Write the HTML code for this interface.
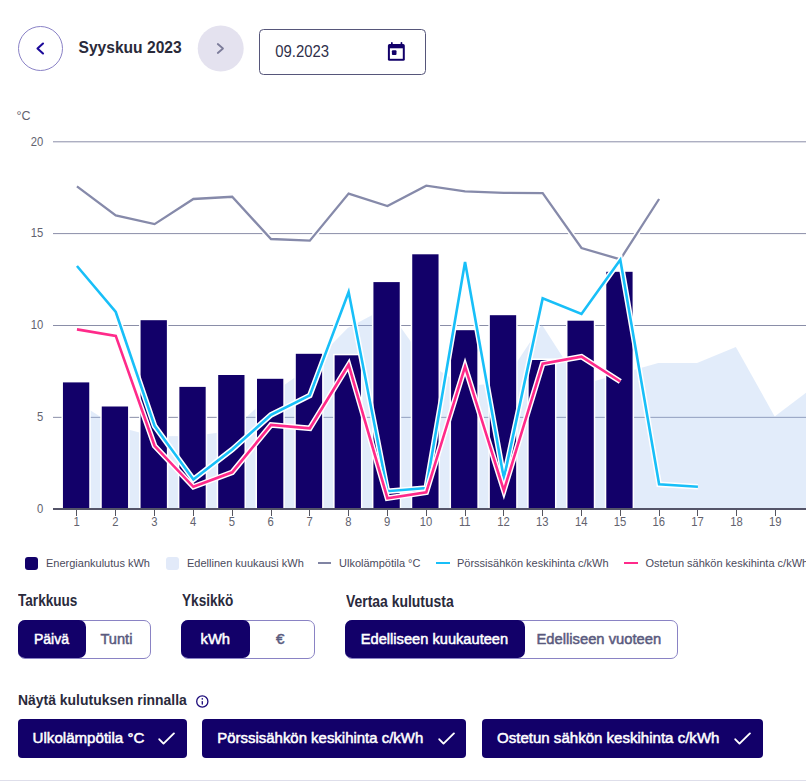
<!DOCTYPE html>
<html><head><meta charset="utf-8">
<style>
html,body{margin:0;padding:0;background:#fff;}
body{width:806px;height:781px;position:relative;overflow:hidden;font-family:"Liberation Sans",sans-serif;}
.abs{position:absolute;white-space:nowrap;}
svg.chart{position:absolute;left:0;top:0;}
.ax{font-family:"Liberation Sans",sans-serif;font-size:12.5px;fill:#62626e;}
.navbtn{position:absolute;width:44px;height:44px;border-radius:50%;box-sizing:border-box;}
.lbl{font-weight:bold;font-size:13.6px;color:#2a2a3c;line-height:16px;transform:scaleY(1.17);transform-origin:0 2.8px;}
.leg{font-size:11px;color:#4a4a5c;line-height:13px;}
.tg{position:absolute;box-sizing:border-box;border:1px solid #8a83c4;border-radius:7px;height:38.5px;top:620px;}
.tg .sel{position:absolute;top:-1px;bottom:0px;left:-1px;background:#120069;border-radius:7px;}
.tg span{position:absolute;top:0;line-height:36.5px;font-weight:bold;font-size:13.8px;transform:scaleY(1.12);transform-origin:0 23px;}
.chip{position:absolute;top:719px;height:38.5px;background:#120069;border-radius:4px;}
.chip span{position:absolute;left:15px;top:0;line-height:38.5px;color:#fff;font-weight:bold;font-size:14px;transform:scaleY(1.13);transform-origin:0 12.5px;}
.chip svg{position:absolute;top:12px;}
</style></head><body>
<!-- header -->
<div class="navbtn" style="left:18px;top:26px;width:45px;height:45px;border:1.3px solid #8a82c6;"></div>
<svg class="abs" style="left:0;top:0" width="806" height="90">
 <polyline points="43,43.5 37.5,48.5 43,53.5" fill="none" stroke="#1c0a9a" stroke-width="2.1" stroke-linecap="round" stroke-linejoin="round"/>
 <circle cx="220.7" cy="48.5" r="23" fill="#e4e2ef"/>
 <polyline points="217.8,44 223,48.5 217.8,53" fill="none" stroke="#7c7c9a" stroke-width="1.8" stroke-linecap="round" stroke-linejoin="round"/>
 <rect x="259.5" y="29.5" width="166" height="45" rx="4" ry="4" fill="none" stroke="#56567a" stroke-width="1"/>
 <g fill="#120069">
  <rect x="387.9" y="44.1" width="16.9" height="16.7" rx="1.6"/>
 </g>
 <rect x="389.9" y="48.3" width="12.9" height="10.5" fill="#fff"/>
 <rect x="391" y="42" width="1.7" height="3" rx="0.8" fill="#120069"/>
 <rect x="400.6" y="42" width="1.7" height="3" rx="0.8" fill="#120069"/>
 <rect x="391.9" y="50.3" width="4.6" height="4.6" rx="0.9" fill="#120069"/>
</svg>
<div class="abs" style="left:78.5px;top:39.2px;font-weight:bold;font-size:15.6px;line-height:18px;color:#2a2a3a;">Syyskuu 2023</div>
<div class="abs" style="left:275.3px;top:43px;font-size:14.9px;line-height:17px;color:#30304a;transform:scaleY(1.12);transform-origin:0 2.8px;">09.2023</div>

<svg class="chart" width="806" height="540">
<line x1="53" y1="141.8" x2="806" y2="141.8" stroke="#8a8ea8" stroke-width="1"/>
<line x1="53" y1="233.6" x2="806" y2="233.6" stroke="#8a8ea8" stroke-width="1"/>
<line x1="53" y1="325.5" x2="806" y2="325.5" stroke="#8a8ea8" stroke-width="1"/>
<line x1="53" y1="417.35" x2="806" y2="417.35" stroke="#8a8ea8" stroke-width="1"/>
<polygon points="76.10,401.20 114.91,426.00 153.72,436.20 192.53,436.00 231.34,431.00 270.15,395.00 308.96,367.50 347.77,328.00 386.58,307.50 425.39,362.00 464.20,386.00 503.01,383.00 541.82,324.60 580.63,385.00 619.44,374.00 658.25,363.00 697.06,363.00 735.87,346.90 774.68,416.40 813.49,387.00 813.49,508 76.10,508" fill="rgb(163,195,239)" fill-opacity="0.315"/>
<rect x="61.45" y="380.90" width="29.30" height="127.10" fill="#fff"/>
<rect x="100.26" y="405.00" width="29.30" height="103.00" fill="#fff"/>
<rect x="139.07" y="318.70" width="29.30" height="189.30" fill="#fff"/>
<rect x="177.88" y="385.40" width="29.30" height="122.60" fill="#fff"/>
<rect x="216.69" y="373.50" width="29.30" height="134.50" fill="#fff"/>
<rect x="255.50" y="377.30" width="29.30" height="130.70" fill="#fff"/>
<rect x="294.31" y="352.30" width="29.30" height="155.70" fill="#fff"/>
<rect x="333.12" y="353.80" width="29.30" height="154.20" fill="#fff"/>
<rect x="371.93" y="280.60" width="29.30" height="227.40" fill="#fff"/>
<rect x="410.74" y="252.80" width="29.30" height="255.20" fill="#fff"/>
<rect x="449.55" y="328.70" width="29.30" height="179.30" fill="#fff"/>
<rect x="488.36" y="313.70" width="29.30" height="194.30" fill="#fff"/>
<rect x="527.17" y="358.50" width="29.30" height="149.50" fill="#fff"/>
<rect x="565.98" y="319.20" width="29.30" height="188.80" fill="#fff"/>
<rect x="604.79" y="270.30" width="29.30" height="237.70" fill="#fff"/>
<rect x="62.95" y="382.40" width="26.30" height="125.60" fill="#120069"/>
<rect x="101.76" y="406.50" width="26.30" height="101.50" fill="#120069"/>
<rect x="140.57" y="320.20" width="26.30" height="187.80" fill="#120069"/>
<rect x="179.38" y="386.90" width="26.30" height="121.10" fill="#120069"/>
<rect x="218.19" y="375.00" width="26.30" height="133.00" fill="#120069"/>
<rect x="257.00" y="378.80" width="26.30" height="129.20" fill="#120069"/>
<rect x="295.81" y="353.80" width="26.30" height="154.20" fill="#120069"/>
<rect x="334.62" y="355.30" width="26.30" height="152.70" fill="#120069"/>
<rect x="373.43" y="282.10" width="26.30" height="225.90" fill="#120069"/>
<rect x="412.24" y="254.30" width="26.30" height="253.70" fill="#120069"/>
<rect x="451.05" y="330.20" width="26.30" height="177.80" fill="#120069"/>
<rect x="489.86" y="315.20" width="26.30" height="192.80" fill="#120069"/>
<rect x="528.67" y="360.00" width="26.30" height="148.00" fill="#120069"/>
<rect x="567.48" y="320.70" width="26.30" height="187.30" fill="#120069"/>
<rect x="606.29" y="271.80" width="26.30" height="236.20" fill="#120069"/>
<line x1="53" y1="509" x2="806" y2="509" stroke="#545468" stroke-width="2"/>
<line x1="76.50" y1="510" x2="76.50" y2="516" stroke="#55555f" stroke-width="1"/>
<text transform="translate(76.65,526) scale(0.9,1)" text-anchor="middle" class="ax">1</text>
<line x1="115.50" y1="510" x2="115.50" y2="516" stroke="#55555f" stroke-width="1"/>
<text transform="translate(115.46,526) scale(0.9,1)" text-anchor="middle" class="ax">2</text>
<line x1="154.50" y1="510" x2="154.50" y2="516" stroke="#55555f" stroke-width="1"/>
<text transform="translate(154.27,526) scale(0.9,1)" text-anchor="middle" class="ax">3</text>
<line x1="193.50" y1="510" x2="193.50" y2="516" stroke="#55555f" stroke-width="1"/>
<text transform="translate(193.08,526) scale(0.9,1)" text-anchor="middle" class="ax">4</text>
<line x1="232.50" y1="510" x2="232.50" y2="516" stroke="#55555f" stroke-width="1"/>
<text transform="translate(231.89,526) scale(0.9,1)" text-anchor="middle" class="ax">5</text>
<line x1="271.50" y1="510" x2="271.50" y2="516" stroke="#55555f" stroke-width="1"/>
<text transform="translate(270.70,526) scale(0.9,1)" text-anchor="middle" class="ax">6</text>
<line x1="309.50" y1="510" x2="309.50" y2="516" stroke="#55555f" stroke-width="1"/>
<text transform="translate(309.51,526) scale(0.9,1)" text-anchor="middle" class="ax">7</text>
<line x1="348.50" y1="510" x2="348.50" y2="516" stroke="#55555f" stroke-width="1"/>
<text transform="translate(348.32,526) scale(0.9,1)" text-anchor="middle" class="ax">8</text>
<line x1="387.50" y1="510" x2="387.50" y2="516" stroke="#55555f" stroke-width="1"/>
<text transform="translate(387.13,526) scale(0.9,1)" text-anchor="middle" class="ax">9</text>
<line x1="426.50" y1="510" x2="426.50" y2="516" stroke="#55555f" stroke-width="1"/>
<text transform="translate(425.94,526) scale(0.9,1)" text-anchor="middle" class="ax">10</text>
<line x1="465.50" y1="510" x2="465.50" y2="516" stroke="#55555f" stroke-width="1"/>
<text transform="translate(464.75,526) scale(0.9,1)" text-anchor="middle" class="ax">11</text>
<line x1="503.50" y1="510" x2="503.50" y2="516" stroke="#55555f" stroke-width="1"/>
<text transform="translate(503.56,526) scale(0.9,1)" text-anchor="middle" class="ax">12</text>
<line x1="542.50" y1="510" x2="542.50" y2="516" stroke="#55555f" stroke-width="1"/>
<text transform="translate(542.37,526) scale(0.9,1)" text-anchor="middle" class="ax">13</text>
<line x1="581.50" y1="510" x2="581.50" y2="516" stroke="#55555f" stroke-width="1"/>
<text transform="translate(581.18,526) scale(0.9,1)" text-anchor="middle" class="ax">14</text>
<line x1="620.50" y1="510" x2="620.50" y2="516" stroke="#55555f" stroke-width="1"/>
<text transform="translate(619.99,526) scale(0.9,1)" text-anchor="middle" class="ax">15</text>
<line x1="659.50" y1="510" x2="659.50" y2="516" stroke="#55555f" stroke-width="1"/>
<text transform="translate(658.80,526) scale(0.9,1)" text-anchor="middle" class="ax">16</text>
<line x1="697.50" y1="510" x2="697.50" y2="516" stroke="#55555f" stroke-width="1"/>
<text transform="translate(697.61,526) scale(0.9,1)" text-anchor="middle" class="ax">17</text>
<line x1="736.50" y1="510" x2="736.50" y2="516" stroke="#55555f" stroke-width="1"/>
<text transform="translate(736.42,526) scale(0.9,1)" text-anchor="middle" class="ax">18</text>
<line x1="775.50" y1="510" x2="775.50" y2="516" stroke="#55555f" stroke-width="1"/>
<text transform="translate(775.23,526) scale(0.9,1)" text-anchor="middle" class="ax">19</text>
<line x1="814.50" y1="510" x2="814.50" y2="516" stroke="#55555f" stroke-width="1"/>
<text transform="translate(814.04,526) scale(0.9,1)" text-anchor="middle" class="ax">20</text>
<text transform="translate(43.3,145.6) scale(0.9,1)" text-anchor="end" class="ax">20</text>
<text transform="translate(43.3,237.3) scale(0.9,1)" text-anchor="end" class="ax">15</text>
<text transform="translate(43.3,329.1) scale(0.9,1)" text-anchor="end" class="ax">10</text>
<text transform="translate(43.3,420.9) scale(0.9,1)" text-anchor="end" class="ax">5</text>
<text transform="translate(43.3,512.6) scale(0.9,1)" text-anchor="end" class="ax">0</text>
<text x="16.5" y="119.5" class="ax">°C</text>
<polyline points="76.95,186.40 115.76,215.40 154.57,224.10 193.38,199.00 232.19,196.80 271.00,239.00 309.81,240.70 348.62,193.60 387.43,206.00 426.24,185.70 465.05,191.30 503.86,192.90 542.67,193.10 581.48,248.00 620.29,259.40 659.10,199.00" fill="none" stroke="#fff" stroke-width="5.3" stroke-linejoin="miter" stroke-miterlimit="5.5" stroke-linecap="butt"/>
<polyline points="76.95,186.40 115.76,215.40 154.57,224.10 193.38,199.00 232.19,196.80 271.00,239.00 309.81,240.70 348.62,193.60 387.43,206.00 426.24,185.70 465.05,191.30 503.86,192.90 542.67,193.10 581.48,248.00 620.29,259.40 659.10,199.00" fill="none" stroke="#868aaa" stroke-width="2.3" stroke-linejoin="miter" stroke-miterlimit="5.5" stroke-linecap="butt"/>
<polyline points="76.95,266.00 115.76,312.00 154.57,426.00 193.38,479.50 232.19,449.50 271.00,414.90 309.81,395.40 348.62,292.00 387.43,491.20 426.24,488.00 465.05,262.00 503.86,478.50 542.67,298.40 581.48,314.00 620.29,259.80 659.10,484.30 697.91,486.80" fill="none" stroke="#fff" stroke-width="5.6" stroke-linejoin="miter" stroke-miterlimit="5.5" stroke-linecap="butt"/>
<polyline points="76.95,266.00 115.76,312.00 154.57,426.00 193.38,479.50 232.19,449.50 271.00,414.90 309.81,395.40 348.62,292.00 387.43,491.20 426.24,488.00 465.05,262.00 503.86,478.50 542.67,298.40 581.48,314.00 620.29,259.80 659.10,484.30 697.91,486.80" fill="none" stroke="#18bff8" stroke-width="2.6" stroke-linejoin="miter" stroke-miterlimit="5.5" stroke-linecap="butt"/>
<polyline points="76.95,329.40 115.76,335.90 154.57,445.80 193.38,486.80 232.19,472.30 271.00,424.90 309.81,428.30 348.62,364.80 387.43,498.20 426.24,492.30 465.05,366.70 503.86,490.50 542.67,363.60 581.48,356.70 620.29,381.50" fill="none" stroke="#fff" stroke-width="5.6" stroke-linejoin="miter" stroke-miterlimit="5.5" stroke-linecap="butt"/>
<polyline points="76.95,329.40 115.76,335.90 154.57,445.80 193.38,486.80 232.19,472.30 271.00,424.90 309.81,428.30 348.62,364.80 387.43,498.20 426.24,492.30 465.05,366.70 503.86,490.50 542.67,363.60 581.48,356.70 620.29,381.50" fill="none" stroke="#ff2a8a" stroke-width="2.6" stroke-linejoin="miter" stroke-miterlimit="5.5" stroke-linecap="butt"/>
</svg>

<!-- legend -->
<div class="abs" style="left:25px;top:557px;width:13px;height:13px;border-radius:3px;background:#120069;"></div>
<div class="abs leg" style="left:46px;top:557px;">Energiankulutus kWh</div>
<div class="abs" style="left:166.3px;top:557px;width:13px;height:13px;border-radius:3px;background:#e2eaf9;"></div>
<div class="abs leg" style="left:187px;top:557px;">Edellinen kuukausi kWh</div>
<div class="abs" style="left:318px;top:562px;width:13px;height:2px;background:#8084a3;"></div>
<div class="abs leg" style="left:339px;top:557px;">Ulkolämpötila °C</div>
<div class="abs" style="left:436px;top:562px;width:13.5px;height:2px;background:#18bff8;"></div>
<div class="abs leg" style="left:457px;top:557px;">Pörssisähkön keskihinta c/kWh</div>
<div class="abs" style="left:624px;top:562px;width:13.5px;height:2px;background:#ff2a8a;"></div>
<div class="abs leg" style="left:645.5px;top:557px;">Ostetun sähkön keskihinta c/kWh</div>

<!-- controls -->

<div class="tg" style="left:18px;width:133px;">
 <div class="sel" style="width:68px;"></div>
</div>
<div class="tg" style="left:181px;width:133.5px;">
 <div class="sel" style="width:69px;"></div>
</div>
<div class="tg" style="left:345px;width:333px;">
 <div class="sel" style="width:179.5px;"></div>
</div>

<svg class="abs" style="left:195.3px;top:695px" width="14" height="14" viewBox="0 0 14 14">
 <circle cx="7.3" cy="6.5" r="5.6" fill="none" stroke="#1c0a7a" stroke-width="1.3"/>
 <rect x="6.65" y="6" width="1.3" height="3.7" rx="0.6" fill="#1c0a7a"/>
 <circle cx="7.3" cy="3.9" r="0.8" fill="#1c0a7a"/>
</svg>

<div class="chip" style="left:18px;width:169px;">
 <svg style="left:140px" width="18" height="14" viewBox="0 0 18 14"><polyline points="1.3,8.3 5.5,12.6 15.9,2.4" fill="none" stroke="#fff" stroke-width="1.9" stroke-linecap="round" stroke-linejoin="round"/></svg></div>
<div class="chip" style="left:202px;width:264px;">
 <svg style="left:236px" width="18" height="14" viewBox="0 0 18 14"><polyline points="1.3,8.3 5.5,12.6 15.9,2.4" fill="none" stroke="#fff" stroke-width="1.9" stroke-linecap="round" stroke-linejoin="round"/></svg></div>
<div class="chip" style="left:482px;width:280.5px;">
 <svg style="left:252px" width="18" height="14" viewBox="0 0 18 14"><polyline points="1.3,8.3 5.5,12.6 15.9,2.4" fill="none" stroke="#fff" stroke-width="1.9" stroke-linecap="round" stroke-linejoin="round"/></svg></div>

<div class="abs" style="left:18.00px;top:591.71px;font-size:13.6px;font-weight:bold;line-height:20px;color:#2a2a3c;transform:scaleY(1.15);transform-origin:0 14.49px;">Tarkkuus</div>
<div class="abs" style="left:182.00px;top:591.71px;font-size:13.6px;font-weight:bold;line-height:20px;color:#2a2a3c;transform:scaleY(1.15);transform-origin:0 14.49px;">Yksikkö</div>
<div class="abs" style="left:346.00px;top:591.59px;font-size:13.95px;font-weight:bold;line-height:20px;color:#2a2a3c;transform:scaleY(1.12);transform-origin:0 14.61px;">Vertaa kulutusta</div>
<div class="abs" style="left:18.00px;top:689.89px;font-size:13.95px;font-weight:bold;line-height:20px;color:#2a2a3c;transform:scaleY(1.04);transform-origin:0 14.61px;">Näytä kulutuksen rinnalla</div>
<div class="abs" style="left:34.00px;top:629.27px;font-size:14.0px;line-height:20px;color:#fff;-webkit-text-stroke:0.5px #fff;">Päivä</div>
<div class="abs" style="left:100.50px;top:629.07px;font-size:14.6px;line-height:20px;color:#5a5a7e;-webkit-text-stroke:0.5px #5a5a7e;">Tunti</div>
<div class="abs" style="left:200.50px;top:629.01px;font-size:14.8px;line-height:20px;color:#fff;-webkit-text-stroke:0.5px #fff;">kWh</div>
<div class="abs" style="left:276.00px;top:628.88px;font-size:15.2px;line-height:20px;color:#5a5a7e;-webkit-text-stroke:0.5px #5a5a7e;">€</div>
<div class="abs" style="left:360.80px;top:629.06px;font-size:14.65px;line-height:20px;color:#fff;-webkit-text-stroke:0.5px #fff;">Edelliseen kuukauteen</div>
<div class="abs" style="left:536.50px;top:629.03px;font-size:14.75px;line-height:20px;color:#5a5a7e;-webkit-text-stroke:0.5px #5a5a7e;">Edelliseen vuoteen</div>
<div class="abs" style="left:32.60px;top:727.81px;font-size:15.1px;line-height:20px;color:#fff;-webkit-text-stroke:0.5px #fff;">Ulkolämpötila °C</div>
<div class="abs" style="left:217.30px;top:727.86px;font-size:14.95px;line-height:20px;color:#fff;-webkit-text-stroke:0.5px #fff;">Pörssisähkön keskihinta c/kWh</div>
<div class="abs" style="left:497.00px;top:727.83px;font-size:15.05px;line-height:20px;color:#fff;-webkit-text-stroke:0.5px #fff;">Ostetun sähkön keskihinta c/kWh</div>
<div class="abs" style="left:0;top:780px;width:806px;height:1px;background:#dedeea;"></div>
</body></html>
